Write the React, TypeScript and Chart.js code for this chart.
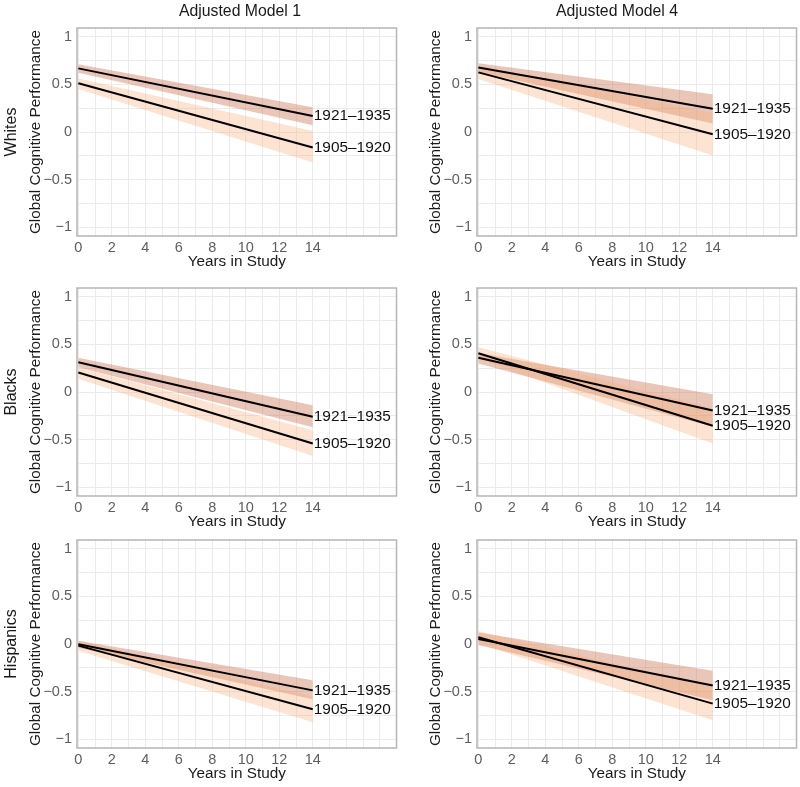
import React, { useEffect, useRef } from 'react';
import { Chart, registerables } from 'chart.js';

Chart.register(...registerables);

// ---------- data ----------
const YEARS = [0, 14];
const ROW_LABELS = ['Whites', 'Blacks', 'Hispanics'];
const COL_LABELS = ['Adjusted Model 1', 'Adjusted Model 4'];
const COHORT_LATE = '1921–1935';
const COHORT_EARLY = '1905–1920';
const X_TICKS = [0, 1, 2, 3, 4, 5, 6, 7, 8, 9, 10, 11, 12, 13, 14, 15, 16, 17, 18, 19];
const Y_TICKS = [-1, -0.75, -0.5, -0.25, 0, 0.25, 0.5, 0.75, 1];

// panels: Whites M1, Whites M4, Blacks M1, Blacks M4, Hispanics M1, Hispanics M4
// each pair = value at YEARS[0], YEARS[1]
const FIT_1921 = [[0.667, 0.167], [0.677, 0.243], [0.312, -0.26], [0.358, -0.194], [-0.003, -0.486], [0.052, -0.434]];
const LO_1921 = [[0.62, 0.07], [0.63, 0.09], [0.26, -0.37], [0.3, -0.365], [-0.04, -0.58], [-0.01, -0.59]];
const HI_1921 = [[0.71, 0.26], [0.72, 0.395], [0.36, -0.14], [0.41, -0.024], [0.035, -0.38], [0.12, -0.28]];
const FIT_1905 = [[0.51, -0.163], [0.625, -0.024], [0.205, -0.54], [0.406, -0.354], [-0.017, -0.684], [0.07, -0.625]];
const LO_1905 = [[0.45, -0.32], [0.555, -0.245], [0.14, -0.67], [0.35, -0.54], [-0.07, -0.82], [0.005, -0.8]];
const HI_1905 = [[0.56, 0.01], [0.695, 0.2], [0.26, -0.4], [0.47, -0.17], [0.035, -0.55], [0.135, -0.45]];

// ---------- layout / style ----------
const FONT = '"Liberation Sans", Arial, Helvetica, sans-serif';
const PLOT_TOPS = [28, 288, 540];
const COL_LEFTS = [0, 400];
const PLOT_H = 208;
const PAD_TOP = 20;
const X_AXIS_H = 38;
const Y_AXIS_W = 77;
const PAD_RIGHT = 3;
const CANVAS_W = 400;
const CANVAS_H = PAD_TOP + PLOT_H + X_AXIS_H;
const BAND_LATE = 'rgba(205,120,85,0.42)';
const BAND_EARLY = 'rgba(246,172,124,0.34)';
const GRID = '#ebebeb';
const FRAME = '#b5b5b5';
const TICK_COLOR = '#5e5e5e';
const TEXT_COLOR = '#1a1a1a';
const TICK_SIZE = 14.5;
const TITLE_SIZE = 15.3;

Chart.defaults.font.family = FONT;

const toPts = (vals: number[]) => vals.map((v, i) => ({ x: YEARS[i], y: v }));

const fmtY = (v: number) => {
  if (Math.abs(v * 2 - Math.round(v * 2)) > 1e-9) return '';
  if (Math.abs(v) < 1e-9) return '0';
  return v < 0 ? '\u2212' + String(Math.abs(v)) : String(v);
};

const framePlugin = {
  id: 'frame',
  beforeDatasetsDraw(chart: any) {
    const { ctx, chartArea } = chart;
    ctx.save();
    ctx.strokeStyle = FRAME;
    ctx.lineWidth = 1.5;
    ctx.strokeRect(chartArea.left, chartArea.top, chartArea.right - chartArea.left, chartArea.bottom - chartArea.top);
    ctx.restore();
  },
};

const endLabelPlugin = {
  id: 'endLabels',
  afterDatasetsDraw(chart: any) {
    const ctx = chart.ctx;
    chart.data.datasets.forEach((ds: any, i: number) => {
      if (!ds.endLabel) return;
      const meta = chart.getDatasetMeta(i);
      const pt = meta.data[meta.data.length - 1];
      if (!pt) return;
      ctx.save();
      ctx.font = '15.4px ' + FONT;
      ctx.fillStyle = '#111111';
      ctx.textAlign = 'left';
      ctx.textBaseline = 'middle';
      ctx.fillText(ds.endLabel, pt.x + 1, pt.y);
      ctx.restore();
    });
  },
};

function Panel({ idx }: { idx: number }) {
  const ref = useRef<HTMLCanvasElement | null>(null);
  useEffect(() => {
    if (!ref.current) return;
    const chart = new Chart(ref.current, {
      type: 'line',
      data: {
        datasets: [
          { label: 'hi1921', data: toPts(HI_1921[idx]), fill: '+1', backgroundColor: BAND_LATE, borderWidth: 0, pointRadius: 0, order: 3 },
          { label: 'lo1921', data: toPts(LO_1921[idx]), fill: false, borderWidth: 0, pointRadius: 0, order: 3 },
          { label: 'hi1905', data: toPts(HI_1905[idx]), fill: '+1', backgroundColor: BAND_EARLY, borderWidth: 0, pointRadius: 0, order: 2 },
          { label: 'lo1905', data: toPts(LO_1905[idx]), fill: false, borderWidth: 0, pointRadius: 0, order: 2 },
          { label: COHORT_LATE, endLabel: COHORT_LATE, data: toPts(FIT_1921[idx]), borderColor: '#000000', borderWidth: 2, pointRadius: 0, fill: false, order: 0 } as any,
          { label: COHORT_EARLY, endLabel: COHORT_EARLY, data: toPts(FIT_1905[idx]), borderColor: '#000000', borderWidth: 2, pointRadius: 0, fill: false, order: 0 } as any,
        ],
      },
      options: {
        animation: false,
        responsive: false,
        maintainAspectRatio: false,
        devicePixelRatio: 1,
        layout: { padding: { top: PAD_TOP, left: 0, right: PAD_RIGHT, bottom: 0 } },
        plugins: { legend: { display: false }, tooltip: { enabled: false }, title: { display: false } },
        elements: { line: { tension: 0 } },
        scales: {
          x: {
            type: 'linear',
            min: -0.08,
            max: 19,
            afterBuildTicks: (s: any) => { s.ticks = X_TICKS.map((v) => ({ value: v })); },
            afterFit: (s: any) => { s.height = X_AXIS_H; },
            grid: { color: GRID, lineWidth: 1, drawTicks: false },
            border: { display: false },
            ticks: {
              autoSkip: false,
              maxRotation: 0,
              minRotation: 0,
              padding: 3.5,
              color: TICK_COLOR,
              font: { size: TICK_SIZE, family: FONT },
              callback: (v: any) => (Number(v) % 2 === 0 && Number(v) <= 14 ? String(v) : ''),
            },
            title: {
              display: true,
              text: 'Years in Study',
              color: TEXT_COLOR,
              font: { size: TITLE_SIZE, family: FONT },
              padding: { top: 0, bottom: 2.8 },
            },
          },
          y: {
            type: 'linear',
            min: -1.09,
            max: 1.09,
            afterBuildTicks: (s: any) => { s.ticks = Y_TICKS.map((v) => ({ value: v })); },
            afterFit: (s: any) => { s.width = Y_AXIS_W; },
            grid: { color: GRID, lineWidth: 1, drawTicks: false },
            border: { display: false },
            ticks: {
              autoSkip: false,
              padding: 5,
              color: TICK_COLOR,
              font: { size: TICK_SIZE, family: FONT },
              callback: (v: any) => fmtY(Number(v)),
            },
            title: {
              display: true,
              text: 'Global Cognitive Performance',
              color: TEXT_COLOR,
              font: { size: TITLE_SIZE, family: FONT },
              padding: { top: 26.8, bottom: 0 },
            },
          },
        },
      } as any,
      plugins: [framePlugin, endLabelPlugin],
    });
    return () => chart.destroy();
  }, [idx]);

  const row = Math.floor(idx / 2);
  const col = idx % 2;
  return (
    <canvas
      ref={ref}
      width={CANVAS_W}
      height={CANVAS_H}
      style={{
        position: 'absolute',
        left: COL_LEFTS[col],
        top: PLOT_TOPS[row] - PAD_TOP,
        width: CANVAS_W,
        height: CANVAS_H,
      }}
    />
  );
}

const COL_TITLE_X = [240, 617];
const COL_TITLE_Y = 11;
const ROW_LABEL_X = 11;

export default function App() {
  return (
    <div
      style={{
        position: 'absolute',
        left: 0,
        top: 0,
        width: 800,
        height: 787,
        overflow: 'hidden',
        background: '#ffffff',
        fontFamily: FONT,
      }}
    >
      {[0, 1, 2, 3, 4, 5].map((i) => (
        <Panel key={i} idx={i} />
      ))}
      {COL_LABELS.map((t, c) => (
        <div
          key={t}
          style={{
            position: 'absolute',
            left: COL_TITLE_X[c] - 150,
            top: COL_TITLE_Y - 10,
            width: 300,
            height: 20,
            lineHeight: '20px',
            textAlign: 'center',
            fontSize: 15.8,
            color: TEXT_COLOR,
            whiteSpace: 'nowrap',
          }}
        >
          {t}
        </div>
      ))}
      {ROW_LABELS.map((t, r) => (
        <div
          key={t}
          style={{
            position: 'absolute',
            left: ROW_LABEL_X - 100,
            top: PLOT_TOPS[r] + PLOT_H / 2 - 10,
            width: 200,
            height: 20,
            lineHeight: '20px',
            textAlign: 'center',
            fontSize: 16,
            color: TEXT_COLOR,
            whiteSpace: 'nowrap',
            transform: 'rotate(-90deg)',
            transformOrigin: '50% 50%',
          }}
        >
          {t}
        </div>
      ))}
    </div>
  );
}
